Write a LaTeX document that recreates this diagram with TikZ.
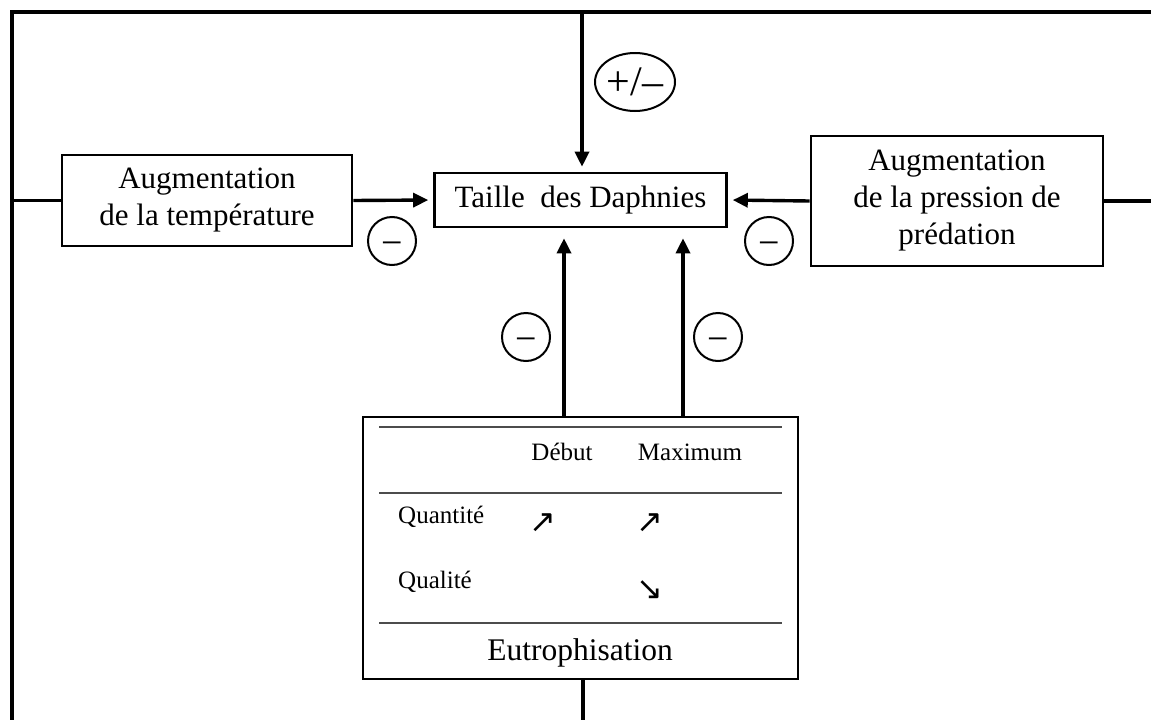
\documentclass[tikz,border=0pt]{standalone}
\usepackage{fontspec}
\setmainfont{Liberation Serif}
\newfontfamily\arrowfont{DejaVu Sans}
\usetikzlibrary{arrows.meta,shapes.geometric}
\begin{document}
\begin{tikzpicture}[x=1pt,y=-1pt,
  box/.style={draw,line width=2.6pt,align=center,font=\fontsize{31}{37}\selectfont,inner sep=0pt},
  conn/.style={line width=3.6pt},
  arr/.style={line width=3.4pt,-{Triangle[length=15pt,width=14pt]}},
  sign/.style={circle,draw,line width=2pt,minimum size=48pt,inner sep=0pt,text height=0pt,text depth=0pt,font=\fontsize{38}{38}\selectfont},
  tab/.style={font=\fontsize{25}{28}\selectfont,inner sep=0pt},
  sym/.style={font=\arrowfont\fontsize{32}{32}\selectfont,inner sep=0pt},
  tabrule/.style={line width=1.5pt,draw=black!70}]
\useasboundingbox (0,0) rectangle (1151,720);
% nodes
\node[box,minimum width=290pt,minimum height=91pt] (temp) at (207,200.5) {Augmentation\\de la température};
\node[box,minimum width=292pt,minimum height=54pt] (daph) at (580.5,200) {Taille~ des Daphnies};
\node[box,minimum width=292pt,minimum height=130pt] (pred) at (957,201) {Augmentation\\de la pression de\\prédation};
\node[draw,line width=2.6pt,minimum width=435pt,minimum height=262pt,inner sep=0pt] (eut) at (580.5,548) {};
% frame coordinates
\coordinate (tl) at (12,12);
\coordinate (tr) at (1151,12);
\coordinate (bl) at (12,720);
\coordinate (lf) at (12,200.5);
\coordinate (rf) at (1151,201);
\coordinate (tt) at (582,12);
\coordinate (bb) at (583,720);
\coordinate (e1) at (564,417);
\coordinate (e2) at (683,417);
% frame
\draw[conn] (tr) -- (tl) -- (bl);
\draw[conn] (lf) -- (temp.west);
\draw[conn] (pred.east) -- (rf);
\draw[conn] (eut.south -| bb) -- (bb);
% arrows
\draw[arr,shorten >=5pt] (tt) -- (tt |- daph.north);
\draw[arr,shorten >=5pt] (temp.east) -- (daph.west);
\draw[arr,shorten >=5pt] (pred.west) -- (daph.east);
\draw[arr,shorten >=10pt] (e1) -- (e1 |- daph.south);
\draw[arr,shorten >=10pt] (e2) -- (e2 |- daph.south);
% signs
\node[ellipse,draw,line width=2pt,minimum width=80pt,minimum height=58pt,inner sep=0pt,font=\fontsize{42}{42}\selectfont] (pm) at (635,82) {+/–};
\node[sign] (m1) at (392,241) {\raisebox{-14.5pt}{−}};
\node[sign] (m2) at (769,241) {\raisebox{-14.5pt}{−}};
\node[sign] (m3) at (526,337) {\raisebox{-14.5pt}{−}};
\node[sign] (m4) at (718,337) {\raisebox{-14.5pt}{−}};
% table inside eutrophisation box
\coordinate (ra) at (379,427); \coordinate (rb) at (782,427);
\coordinate (rc) at (379,493); \coordinate (rd) at (782,493);
\coordinate (re) at (379,623); \coordinate (rg) at (782,623);
\draw[tabrule] (ra) -- (rb);
\draw[tabrule] (rc) -- (rd);
\draw[tabrule] (re) -- (rg);
\node[tab] (deb) at (562,452) {Début};
\node[tab] (max) at (690,452) {Maximum};
\node[tab,anchor=west] (qt) at (398,517) {Quantité};
\node[tab,anchor=west] (ql) at (398,582) {Qualité};
\node[sym] (a1) at (543,523) {↗};
\node[sym] (a2) at (650,523) {↗};
\node[sym] (a3) at (650,590) {↘};
\node[font=\fontsize{31.5}{36}\selectfont,inner sep=0pt] (eutl) at (580,653) {Eutrophisation};
\end{tikzpicture}
\end{document}
